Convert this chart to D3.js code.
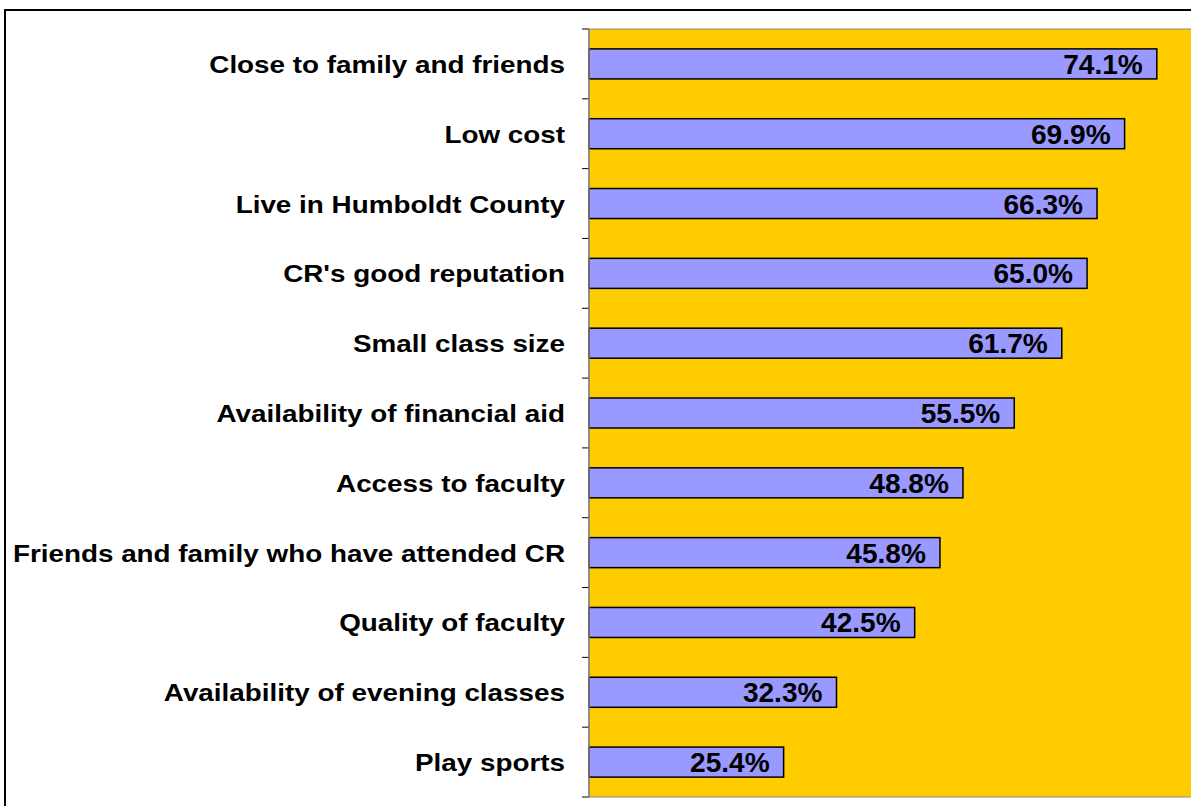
<!DOCTYPE html>
<html>
<head>
<meta charset="utf-8">
<script src="https://cdnjs.cloudflare.com/ajax/libs/d3/7.8.5/d3.min.js"></script>
<style>
  body { margin: 0; background: #fff; }
  svg { display: block; }
  .cat { font: bold 24px "Liberation Sans", Arial, sans-serif; fill: #000; }
  .val { font: bold 27px "Liberation Sans", Arial, sans-serif; fill: #000; }
</style>
</head>
<body>
<div class="contents"></div>
<script>
var categories = [
    "Close to family and friends",
    "Low cost",
    "Live in Humboldt County",
    "CR's good reputation",
    "Small class size",
    "Availability of financial aid",
    "Access to faculty",
    "Friends and family who have attended CR",
    "Quality of faculty",
    "Availability of evening classes",
    "Play sports"
];
var values = [74.1, 69.9, 66.3, 65.0, 61.7, 55.5, 48.8, 45.8, 42.5, 32.3, 25.4];
var xDomain = [0, 80];

var svgWidth = 1191, svgHeight = 806;
var margin = { top: 29, right: -11, bottom: 9, left: 589 };
var width = svgWidth - margin.left - margin.right,
    height = svgHeight - margin.top - margin.bottom;
var labelStretch = 1.16; // category labels are drawn wider than plain Arial
var valueStretch = 1.04;

var svg = d3.select(".contents").append("svg")
    .attr("width", svgWidth)
    .attr("height", svgHeight);

// outer chart frame (right/bottom edges fall outside the picture)
svg.append("rect")
    .attr("x", 5).attr("y", 10)
    .attr("width", svgWidth + 20).attr("height", svgHeight + 20)
    .attr("fill", "#fff")
    .attr("stroke", "#000")
    .attr("stroke-width", 2);

var g = svg.append("g")
    .attr("transform", "translate(" + margin.left + "," + margin.top + ")");

var x = d3.scaleLinear().domain(xDomain).range([0, width]);
var y = d3.scaleBand().domain(categories).range([0, height])
    .paddingInner(0.57).paddingOuter(0.285);

// plot area background
g.append("rect")
    .attr("width", width)
    .attr("height", height)
    .attr("fill", "#FFCC00")
    .attr("stroke", "#8c8c8c")
    .attr("stroke-width", 1);

// bars
g.selectAll(".bar")
    .data(values)
    .enter().append("rect")
    .attr("class", "bar")
    .attr("x", x(0))
    .attr("y", function(d, i) { return y(categories[i]); })
    .attr("width", function(d) { return x(d) - x(0); })
    .attr("height", y.bandwidth())
    .attr("fill", "#9999FF")
    .attr("stroke", "#000")
    .attr("stroke-width", 1.5);

// value labels, inside end
g.selectAll(".val")
    .data(values)
    .enter().append("text")
    .attr("class", "val")
    .attr("transform", function(d, i) {
        return "translate(" + (x(d) - 14) + "," + (y(categories[i]) + y.bandwidth() / 2 + 10) +
            ") scale(" + valueStretch + ",1)";
    })
    .attr("text-anchor", "end")
    .text(function(d) { return d.toFixed(1) + "%"; });

// category axis: ticks between categories
var tickPos = d3.range(categories.length + 1).map(function(i) { return i * height / categories.length; });
g.selectAll(".tick")
    .data(tickPos)
    .enter().append("line")
    .attr("x1", -7).attr("x2", 0)
    .attr("y1", function(d) { return d; })
    .attr("y2", function(d) { return d; })
    .attr("stroke", "#000")
    .attr("stroke-width", 1);

g.append("line")
    .attr("x1", 0).attr("x2", 0)
    .attr("y1", 0).attr("y2", height)
    .attr("stroke", "#808080")
    .attr("stroke-width", 1.5);

g.selectAll(".cat")
    .data(categories)
    .enter().append("text")
    .attr("class", "cat")
    .attr("transform", function(d) {
        return "translate(-24," + (y(d) + y.bandwidth() / 2 + 9) + ") scale(" + labelStretch + ",1)";
    })
    .attr("text-anchor", "end")
    .text(function(d) { return d; });
</script>
</body>
</html>
